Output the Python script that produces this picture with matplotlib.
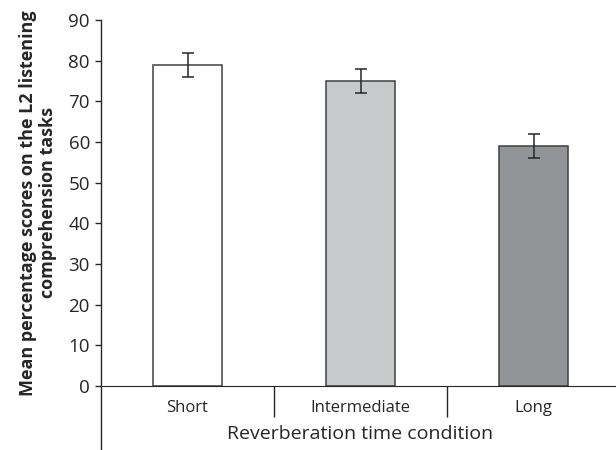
import matplotlib
matplotlib.use("Agg")
import matplotlib.pyplot as plt

# data
conditions = ["Short", "Intermediate", "Long"]
mean_scores = [79, 75, 59]
errors = [3, 3, 3]
bar_colors = ["#ffffff", "#c8c9cb", "#939498"]
y_ticks = list(range(0, 91, 10))

plt.rcParams['font.family'] = ['Open Sans', 'DejaVu Sans']

fig = plt.figure(figsize=(6.16, 4.5), dpi=100)
ax = fig.add_axes([101 / 616, 1 - 386 / 450, 519 / 616, 366 / 450])

x = list(range(len(conditions)))
ax.bar(x, mean_scores, width=0.4, color=bar_colors, edgecolor="#404040", linewidth=1.1,
       yerr=errors, error_kw=dict(ecolor="#262626", elinewidth=1.1, capsize=4, capthick=1.1))

ax.set_xlim(-0.5, 2.5)
ax.set_ylim(0, 90)
ax.set_yticks(y_ticks)
ax.tick_params(axis='y', direction='out', length=4, width=1, pad=4, colors="#262626", labelsize=13.5)

# category labels, separators between them
ax.set_xticks(x)
ax.set_xticklabels(conditions)
ax.tick_params(axis='x', which='major', length=0, pad=10, labelsize=12, colors="#262626")
ax.set_xticks([0.5, 1.5], minor=True)
ax.tick_params(axis='x', which='minor', direction='out', length=22, width=1, color="#262626")

for s in ["top", "right"]:
    ax.spines[s].set_visible(False)
ax.spines["left"].set_visible(False)
ax.spines["bottom"].set_color("#262626")
# y axis line runs down past the category labels
ax.plot([0, 0], [-0.175, 1], transform=ax.transAxes, color="#262626", lw=1, clip_on=False)

ax.set_xlabel("Reverberation time condition", fontsize=14, color="#262626", labelpad=3)
fig.text(38 / 616, 1 - 203 / 450,
         "Mean percentage scores on the L2 listening\ncomprehension tasks",
         rotation=90, ha='center', va='center', multialignment='center',
         fontsize=13, fontweight='bold', color="#262626", linespacing=1.15)

fig.savefig("out.png", dpi=100)
